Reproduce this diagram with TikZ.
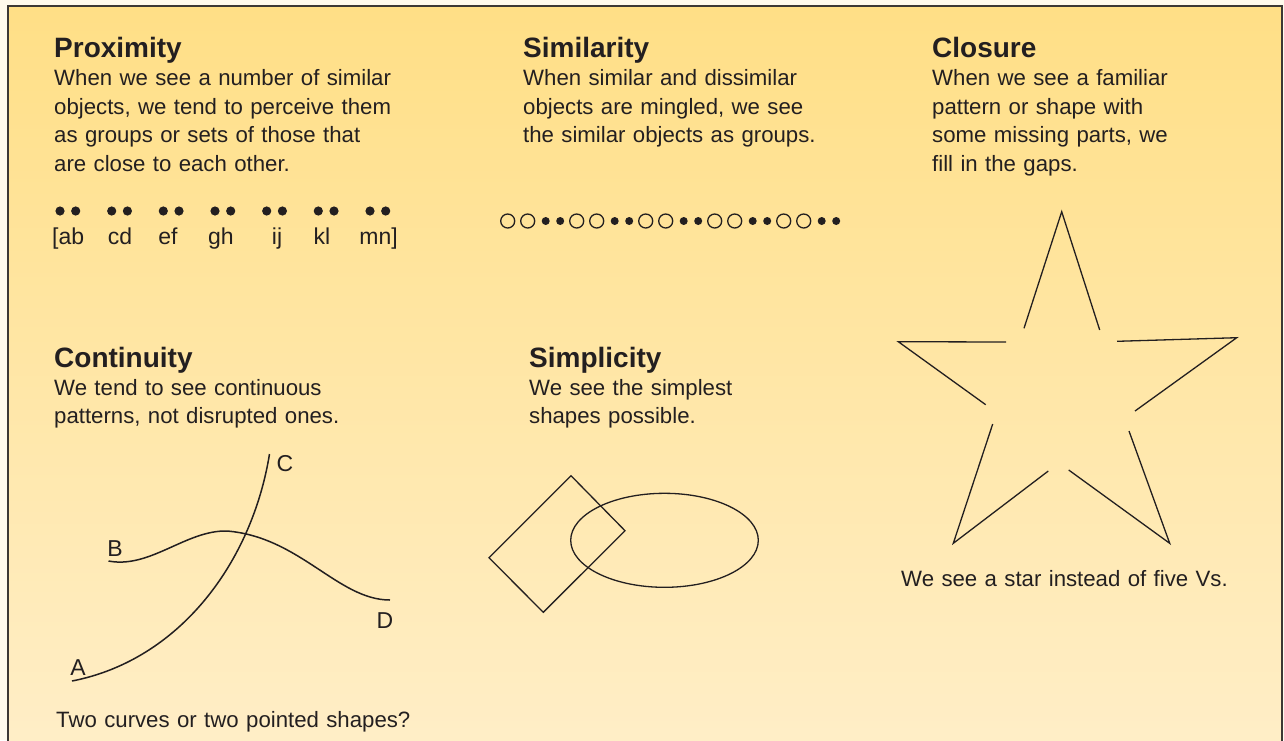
\documentclass[tikz,border=0pt]{standalone}
\usepackage{fontspec}
\setmainfont{Liberation Sans}
\definecolor{ink}{RGB}{35,31,32}
\definecolor{outer}{RGB}{255,250,236}
\definecolor{bgtop}{RGB}{255,223,134}
\definecolor{bgbot}{RGB}{255,238,199}
\definecolor{framec}{RGB}{60,56,52}
\tikzset{
  heading/.style={anchor=base west, inner sep=0pt, text=ink, font=\fontsize{28}{32}\selectfont\bfseries},
  bodytext/.style={anchor=base west, inner sep=0pt, text=ink, font=\fontsize{22.2}{28.5}\selectfont, text width=440pt, align=left},
  lbl/.style={anchor=base, inner sep=0pt, text=ink, font=\fontsize{23}{28}\selectfont},
  shapeline/.style={draw=ink, line width=1.3pt, line join=miter},
  curveline/.style={draw=ink, line width=1.5pt},
  frameline/.style={draw=framec, line width=2pt}
}
\begin{document}
\begin{tikzpicture}[x=1pt,y=-1pt]
\useasboundingbox (0,0) rectangle (1284,740);
\fill[outer] (0,0) rectangle (1284,740);
\shade[top color=bgtop, bottom color=bgbot] (7.5,5.5) rectangle (1282,745);
\draw[frameline] (7.5,745) -- (7.5,5.5) -- (1282,5.5) -- (1282,745);

% ---------- Proximity ----------
\node[heading] (proxh) at (54,57) {Proximity};
\node[bodytext] (proxb) at (54,85.5) {When we see a number of similar\\objects, we tend to perceive them\\as groups or sets of those that\\are close to each other.};
\foreach \x in {60,111.7,163.3,215,266.7,318.3,370}{
  \fill[ink] (\x,211) circle (4.6);
  \fill[ink] (\x+15.7,211) circle (4.6);
}
\node[lbl, anchor=base west] (lab) at (52,244) {[ab};
\node[lbl] (lcd) at (120,244) {cd};
\node[lbl] (lef) at (168,244) {ef};
\node[lbl] (lgh) at (221,244) {gh};
\node[lbl] (lij) at (277,244) {ij};
\node[lbl] (lkl) at (322,244) {kl};
\node[lbl, anchor=base east] (lmn) at (398,244) {mn]};

% ---------- Similarity ----------
\node[heading] (simh) at (523,57) {Similarity};
\node[bodytext] (simb) at (523,85.5) {When similar and dissimilar\\objects are mingled, we see\\the similar objects as groups.};
\foreach \i in {0,...,4}{
  \pgfmathsetmacro{\bx}{507.7+69*\i}
  \draw[ink, line width=1.3pt] (\bx,221) circle (7);
  \draw[ink, line width=1.3pt] (\bx+20,221) circle (7);
  \fill[ink] (\bx+38,221) circle (4);
  \fill[ink] (\bx+52.5,221) circle (4);
}

% ---------- Closure ----------
\node[heading] (cloh) at (932,57) {Closure};
\node[bodytext] (clob) at (932,85.5) {When we see a familiar\\pattern or shape with\\some missing parts, we\\fill in the gaps.};
\draw[shapeline] (1024,328.3) -- (1061.7,211.7) -- (1099.7,330);
\draw[shapeline] (1006,342) -- (898.3,341.7) -- (985.7,404.7);
\draw[shapeline] (1117,341.3) -- (1236.7,337.7) -- (1135,411);
\draw[shapeline] (992.7,424) -- (953.3,543.3) -- (1048.3,471);
\draw[shapeline] (1068.7,470) -- (1169.7,543.3) -- (1129,431);
\node[bodytext] (cloc) at (901,586) {We see a star instead of five Vs.};

% ---------- Continuity ----------
\node[heading] (conh) at (54,367) {Continuity};
\node[bodytext] (conb) at (54,395) {We tend to see continuous\\patterns, not disrupted ones.};
\coordinate (pA) at (72,681);
\coordinate (pC) at (269.5,454);
\coordinate (pB) at (108.5,561);
\coordinate (pM) at (227,531);
\coordinate (pD) at (390,600);
\draw[curveline] (pA) .. controls (180,660) and (252,562) .. (pC);
\draw[curveline] (pB) .. controls (150,569) and (186,530) .. (pM)
                      .. controls (300,537) and (338,600) .. (pD);
\node[lbl] (labC) at (285,471) {C};
\node[lbl] (labB) at (115,556) {B};
\node[lbl] (labD) at (385,628) {D};
\node[lbl] (labA) at (78,675) {A};
\node[bodytext] (conc) at (56,727) {Two curves or two pointed shapes?};

% ---------- Simplicity ----------
\node[heading] (smph) at (529,367) {Simplicity};
\node[bodytext] (smpb) at (529,395) {We see the simplest\\shapes possible.};
\draw[shapeline] (571,475.7) -- (625,530.7) -- (543.3,612.3) -- (489,557.7) -- cycle;
\draw[ink, line width=1.3pt] (664.5,540.3) ellipse [x radius=93.8, y radius=47];
\end{tikzpicture}
\end{document}
